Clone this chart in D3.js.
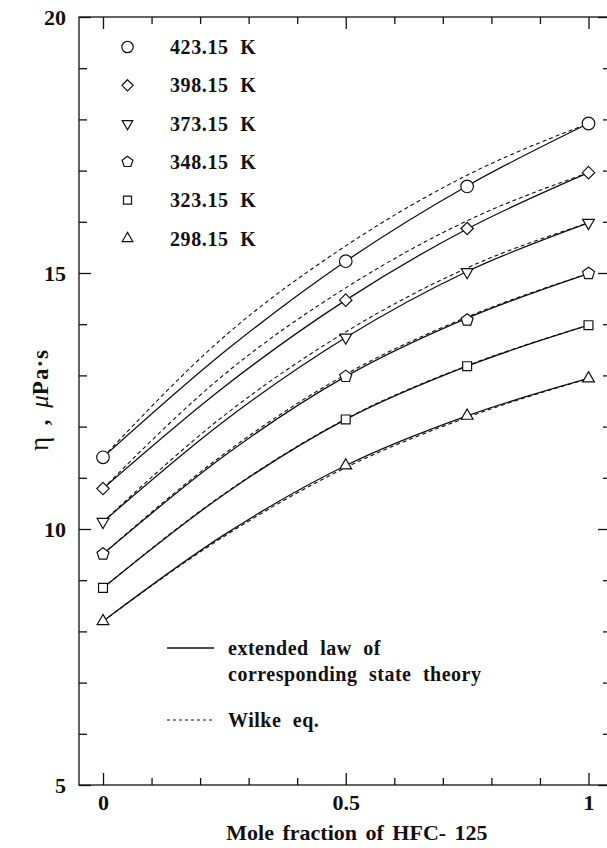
<!DOCTYPE html>
<html>
<head>
<meta charset="utf-8">
<script src="https://cdn.jsdelivr.net/npm/d3@7"></script>
<style>
  body { margin: 0; background: #fff; }
  svg { display: block; }
  text { font-family: "Liberation Serif", "Times New Roman", serif; font-weight: bold; fill: #111; }
  .axis path, .axis line { stroke: #111; stroke-width: 1.3; }
  .solid { fill: none; stroke: #111; stroke-width: 1.3; }
  .dashed { fill: none; stroke: #111; stroke-width: 1.1; stroke-dasharray: 4,3; }
  .marker { fill: #fff; stroke: #111; stroke-width: 1.2; }
</style>
</head>
<body>
<svg id="chart" width="607" height="848"></svg>
<script>
// data
var temps = ['423.15', '398.15', '373.15', '348.15', '323.15', '298.15'];
var shapes = ['circle', 'diamond', 'triDown', 'pentagon', 'square', 'triUp'];

// measured points at these mole fractions
var pointX = [0, 0.5, 0.75, 1];
var points423 = [11.40, 15.23, 16.69, 17.92];
var points398 = [10.79, 14.47, 15.87, 16.96];
var points373 = [10.14, 13.74, 15.02, 15.98];
var points348 = [9.51, 12.98, 14.08, 14.99];
var points323 = [8.85, 12.14, 13.18, 13.98];
var points298 = [8.20, 11.24, 12.21, 12.94];

// curve knots (extended corresponding states = solid, Wilke = dashed)
var curveX = [0, 0.25, 0.5, 0.75, 1];
var ecs423 = [11.40, 13.46, 15.23, 16.70, 17.92];
var ecs398 = [10.79, 12.78, 14.47, 15.86, 16.96];
var ecs373 = [10.14, 12.11, 13.74, 15.03, 15.98];
var ecs348 = [9.51, 11.43, 12.98, 14.12, 14.99];
var ecs323 = [8.85, 10.68, 12.14, 13.18, 13.98];
var ecs298 = [8.20, 9.89, 11.24, 12.21, 12.94];

var wilke423 = [11.40, 13.76, 15.53, 16.91, 17.92];
var wilke398 = [10.79, 13.02, 14.71, 16.02, 16.96];
var wilke373 = [10.14, 12.22, 13.85, 15.10, 15.98];
var wilke348 = [9.51, 11.47, 13.02, 14.14, 14.99];
var wilke323 = [8.85, 10.69, 12.15, 13.19, 13.98];
var wilke298 = [8.20, 9.86, 11.20, 12.18, 12.94];

var pointSets = [points423, points398, points373, points348, points323, points298];
var ecsSets = [ecs423, ecs398, ecs373, ecs348, ecs323, ecs298];
var wilkeSets = [wilke423, wilke398, wilke373, wilke348, wilke323, wilke298];

var xTicks = [0, 0.5, 1];
var xTickLabels = ['0', '0.5', '1'];
var yTicks = [5, 10, 15, 20];

// frame
var frame = {l: 79, r: 610, t: 17, b: 785};

var svg = d3.select('#chart');

var scaleX = d3.scaleLinear().domain([0, 1]).range([103, 588.5]);
var scaleY = d3.scaleLinear().domain([5, 20]).range([frame.b, frame.t]);

// axes: major ticks inward, minor ticks every 0.1 / 1 unit
var minorX = d3.range(0, 1.0001, 0.1).filter(function(d){ return Math.abs(d - 0.5) > 1e-6 && d > 1e-6 && d < 0.9999; });
var minorY = d3.range(6, 20, 1).filter(function(d){ return d % 5 !== 0; });

function addAxis(axis, tx, ty) {
    var g = svg.append('g')
        .attr('class', 'axis')
        .attr('transform', 'translate(' + tx + ',' + ty + ')')
        .call(axis);
    g.select('.domain').remove();
    return g;
}

// bottom
addAxis(d3.axisBottom(scaleX).tickValues(xTicks).tickSizeInner(-12).tickSizeOuter(0).tickPadding(9)
    .tickFormat(function(d, i){ return xTickLabels[i]; }), 0, frame.b)
    .selectAll('text').style('font-size', '22px');
addAxis(d3.axisBottom(scaleX).tickValues(minorX).tickSizeInner(-7).tickSizeOuter(0).tickFormat(''), 0, frame.b);
// top
addAxis(d3.axisTop(scaleX).tickValues(xTicks).tickSizeInner(-12).tickSizeOuter(0).tickFormat(''), 0, frame.t);
addAxis(d3.axisTop(scaleX).tickValues(minorX).tickSizeInner(-7).tickSizeOuter(0).tickFormat(''), 0, frame.t);
// left
addAxis(d3.axisLeft(scaleY).tickValues(yTicks).tickSizeInner(-12).tickSizeOuter(0).tickPadding(13)
    .tickFormat(d3.format('d')), frame.l, 0)
    .selectAll('text').style('font-size', '22px');
addAxis(d3.axisLeft(scaleY).tickValues(minorY).tickSizeInner(-8).tickSizeOuter(0).tickFormat(''), frame.l, 0);
// right
addAxis(d3.axisRight(scaleY).tickValues(yTicks).tickSizeInner(-12).tickSizeOuter(0).tickFormat(''), frame.r, 0);
addAxis(d3.axisRight(scaleY).tickValues(minorY).tickSizeInner(-7).tickSizeOuter(0).tickFormat(''), frame.r, 0);

svg.append('rect')
    .attr('x', frame.l).attr('y', frame.t)
    .attr('width', frame.r - frame.l).attr('height', frame.b - frame.t)
    .attr('fill', 'none').attr('stroke', '#111').attr('stroke-width', 1.3);

// curves
var line = d3.line()
    .x(function(d){ return scaleX(d[0]); })
    .y(function(d){ return scaleY(d[1]); })
    .curve(d3.curveMonotoneX);

var curves = svg.append('g').attr('class', 'curves');

wilkeSets.forEach(function(vals){
    curves.append('path')
        .datum(d3.zip(curveX, vals))
        .attr('class', 'dashed')
        .attr('d', line);
});
ecsSets.forEach(function(vals){
    curves.append('path')
        .datum(d3.zip(curveX, vals))
        .attr('class', 'solid')
        .attr('d', line);
});

// markers
function polygon(n, r, rot) {
    var pts = d3.range(n).map(function(i){
        var a = rot + i * 2 * Math.PI / n;
        return [r * Math.sin(a), -r * Math.cos(a)];
    });
    return 'M' + pts.join('L') + 'Z';
}

function drawMarker(g, shape, cx, cy, big) {
    var k = big ? 1 : 0.9;
    if (shape === 'circle') {
        g.append('circle').attr('class', 'marker')
            .attr('cx', cx).attr('cy', cy).attr('r', 6.3 * k);
        return;
    }
    var d;
    if (shape === 'diamond') d = polygon(4, 6.2 * k, 0);
    if (shape === 'square') d = polygon(4, 6.3 * k, Math.PI / 4);
    if (shape === 'triUp') d = polygon(3, 6.8 * k, 0);
    if (shape === 'triDown') d = polygon(3, 6.8 * k, Math.PI);
    if (shape === 'pentagon') d = polygon(5, 6.3 * k, 0);
    g.append('path').attr('class', 'marker')
        .attr('transform', 'translate(' + cx + ',' + cy + ')')
        .attr('d', d);
}

var markers = svg.append('g').attr('class', 'markers');
pointSets.forEach(function(vals, i){
    vals.forEach(function(v, j){
        drawMarker(markers, shapes[i], scaleX(pointX[j]), scaleY(v), true);
    });
});

// legend for temperatures
var legend = svg.append('g').attr('class', 'legend');
temps.forEach(function(t, i){
    var y = 47 + i * 38.3;
    drawMarker(legend, shapes[i], 127.5, y, false);
    legend.append('text')
        .attr('x', 170).attr('y', y + 7)
        .style('font-size', '20px')
        .style('letter-spacing', '0.6px')
        .style('word-spacing', '6px')
        .text(t + ' K');
});

// legend for curves
var lg2 = svg.append('g').attr('class', 'legend2');
lg2.append('line').attr('class', 'solid')
    .attr('x1', 167).attr('x2', 214).attr('y1', 648).attr('y2', 648);
lg2.append('text').attr('x', 228).attr('y', 655).style('font-size', '20px')
    .style('letter-spacing', '0.5px').style('word-spacing', '6px').text('extended law of');
lg2.append('text').attr('x', 228).attr('y', 681).style('font-size', '20px')
    .style('letter-spacing', '0.5px').style('word-spacing', '6px').text('corresponding state theory');
lg2.append('line').attr('class', 'dashed').style('stroke-dasharray', '3,3')
    .attr('x1', 167).attr('x2', 214).attr('y1', 720).attr('y2', 720);
lg2.append('text').attr('x', 228).attr('y', 727).style('font-size', '20px')
    .style('letter-spacing', '0.5px').style('word-spacing', '6px').text('Wilke eq.');

// axis titles
svg.append('text')
    .attr('x', 357).attr('y', 840)
    .attr('text-anchor', 'middle')
    .style('font-size', '22px')
    .style('word-spacing', '3px')
    .text('Mole fraction of HFC- 125');

var yTitle = svg.append('text')
    .attr('transform', 'translate(48,400) rotate(-90)')
    .attr('text-anchor', 'middle')
    .style('font-size', '23px');
yTitle.append('tspan').style('font-weight', 'normal').style('font-size', '27px').text('η');
yTitle.append('tspan').style('word-spacing', '6px').text(' ,  ');
yTitle.append('tspan').style('font-style', 'italic').style('font-weight', 'normal').style('font-size', '25px').text('μ');
yTitle.append('tspan').style('letter-spacing', '1px').text('Pa·s');
</script>
</body>
</html>
